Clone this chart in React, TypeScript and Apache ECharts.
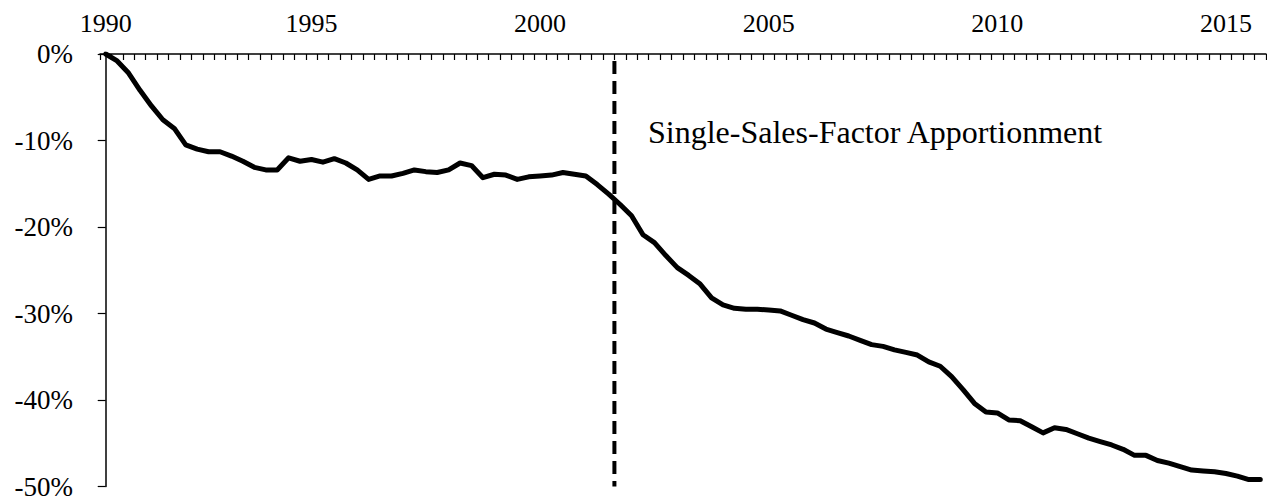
import React, { useEffect, useRef } from "react";
import * as echarts from "echarts";

// Quarterly categories, 1990Q3 .. 2015Q4
const firstYear = 1990;
const firstQuarter = 3;
const quarterCount = 102;
const categories: string[] = [];
for (let i = 0; i < quarterCount; i++) {
  const q = firstQuarter - 1 + i;
  categories.push(`${firstYear + Math.floor(q / 4)}Q${(q % 4) + 1}`);
}

// Tick labels and the categories they sit on
const tickLabels = ["1990", "1995", "2000", "2005", "2010", "2015"];
const tickCategories = ["1990Q3", "1995Q1", "2000Q1", "2005Q1", "2010Q1", "2015Q1"];

// Cumulative change, percent
const values = [
  0, -0.8, -2.2, -4.2, -6.0, -7.6, -8.6, -10.5, -11.0, -11.3,
  -11.3, -11.8, -12.4, -13.1, -13.4, -13.4, -12.0, -12.4, -12.2, -12.5,
  -12.1, -12.6, -13.4, -14.5, -14.1, -14.1, -13.8, -13.4, -13.6, -13.7,
  -13.4, -12.6, -12.9, -14.3, -13.9, -14.0, -14.5, -14.2, -14.1, -14.0,
  -13.7, -13.9, -14.1, -15.1, -16.2, -17.4, -18.7, -20.9, -21.8, -23.3,
  -24.7, -25.6, -26.6, -28.2, -29.0, -29.4, -29.5, -29.5, -29.6, -29.7,
  -30.2, -30.7, -31.1, -31.8, -32.2, -32.6, -33.1, -33.6, -33.8, -34.2,
  -34.5, -34.8, -35.6, -36.1, -37.3, -38.8, -40.4, -41.4, -41.5, -42.3,
  -42.4, -43.1, -43.8, -43.2, -43.4, -43.9, -44.4, -44.8, -45.2, -45.7,
  -46.4, -46.4, -47.0, -47.3, -47.7, -48.1, -48.2, -48.3, -48.5, -48.8,
  -49.2, -49.2,
];

// Policy change: Single-Sales-Factor apportionment begins with this quarter
const policyStartQuarter = "2001Q4";
const annotation = "Single-Sales-Factor Apportionment";

const yMin = -50;
const yMax = 0;
const yInterval = 10;

export default function App() {
  const ref = useRef<HTMLDivElement>(null);

  useEffect(() => {
    document.body.style.margin = "0";
    if (!ref.current) return;
    const chart = echarts.init(ref.current, undefined, { renderer: "svg" });
    const font = "Liberation Serif";
    const breakX = categories.indexOf(policyStartQuarter) - 0.5;
    const labelMap: Record<string, string> = {};
    tickCategories.forEach((c, i) => (labelMap[c] = tickLabels[i]));

    chart.setOption({
      animation: false,
      backgroundColor: "#ffffff",
      grid: { left: 100, right: 1, top: 54, bottom: 13, containLabel: false },
      xAxis: [
        {
          type: "category",
          data: categories,
          position: "top",
          boundaryGap: true,
          axisLine: { show: true, lineStyle: { color: "#000", width: 1.5 } },
          axisTick: {
            show: true,
            inside: true,
            length: 6,
            interval: 0,
            lineStyle: { color: "#000", width: 1.2 },
          },
          axisLabel: {
            show: true,
            interval: (_i: number, v: string) => v in labelMap,
            formatter: (v: string) => labelMap[v] || "",
            fontFamily: font,
            fontSize: 26,
            color: "#000",
            margin: 18,
          },
          splitLine: { show: false },
        },
        {
          type: "value",
          min: -0.5,
          max: quarterCount - 0.5,
          show: false,
        },
      ],
      yAxis: {
        type: "value",
        min: yMin,
        max: yMax,
        interval: yInterval,
        axisLine: { show: true, lineStyle: { color: "#000", width: 1.5 } },
        axisTick: { show: true, inside: false, length: 8, lineStyle: { color: "#000", width: 1.2 } },
        axisLabel: {
          formatter: (v: number) => `${v}%`,
          fontFamily: font,
          fontSize: 27,
          color: "#000",
          margin: 27,
        },
        splitLine: { show: false },
      },
      series: [
        {
          type: "line",
          data: values,
          xAxisIndex: 0,
          symbol: "none",
          smooth: false,
          lineStyle: { color: "#000", width: 5, cap: "round", join: "round" },
          z: 3,
        },
        {
          type: "line",
          xAxisIndex: 1,
          data: [
            [breakX, yMax],
            [breakX, yMin],
          ],
          symbol: "none",
          lineStyle: { color: "#000", width: 4, type: [13, 7], dashOffset: 13 },
          z: 2,
        },
      ],
      graphic: [
        {
          type: "text",
          left: 648,
          top: 116,
          style: {
            text: annotation,
            font: `32px "${font}"`,
            fill: "#000",
          },
        },
      ],
    });
    return () => chart.dispose();
  }, []);

  return <div ref={ref} style={{ width: 1267, height: 500 }} />;
}
